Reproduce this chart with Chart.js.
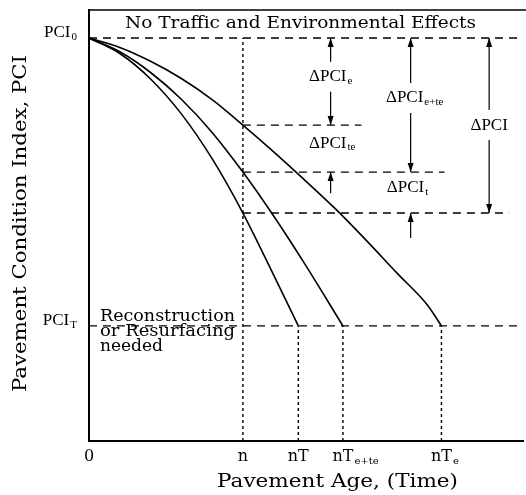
<!DOCTYPE html>
<html><head><meta charset="utf-8">
<script src="https://cdn.jsdelivr.net/npm/chart.js@4"></script>
<style>html,body{margin:0;padding:0;background:#fff}canvas{display:block}</style>
</head><body>
<canvas id="c" width="526" height="495"></canvas>
<script>
'use strict';
// age units: n = 10 ; PCI units 0..100
const xMax = 28.2, yMax = 100;
const pci0 = 93.5, pciT = 26.7;
const levelE = 73.3, levelTE = 62.4, levelT = 52.9;
const ageN = 10, ageT = 13.6, ageTE = 16.5, ageE = 22.9;

const curveE  = [[0,93.5],[2,91.3],[4,88.1],[6,84.1],[8,79.2],[10,73.3],[12,67.1],[14,60.6],[16,53.9],[18,46.6],[20,39.0],[22,31.5],[22.9,26.7]];
const curveTE = [[0,93.5],[2,90.3],[4,85.5],[6,79.3],[8,71.6],[10,62.4],[12,52.2],[14,41.2],[16.5,26.7]];
const curveT  = [[0,93.5],[2,89.9],[4,84.0],[6,75.9],[8,65.5],[10,52.9],[12,38.5],[13.6,26.7]];

const xTickVals = [0, ageN, ageT, ageTE, ageE];
const xTickMain = ['0', 'n', 'nT', 'nT', 'nT'];
const xTickSub  = ['', '', '', 'e+te', 'e'];
const yTickVals = [pci0, pciT];
const yTickSub  = ['0', 'T'];

// dashed levels: [y, x from, x to]
const hLevels = [[pci0, 0, xMax], [pciT, 0, xMax], [levelE, ageN, 17.7], [levelTE, ageN, 23.1], [levelT, ageN, 27.3]];
// dotted verticals: [x, y top]
const vLines = [[ageN, pci0], [ageT, pciT], [ageTE, pciT], [ageE, pciT]];

// dimension arrows: x, from, to, label sub, label y
const spanArrows = [[15.7, pci0, levelE, 'e', 84.5], [20.9, pci0, levelTE, 'e+te', 79.6], [26.0, pci0, levelT, '', 73.3]];
const upArrows = [[15.7, 57.5, levelTE], [20.9, 47.1, levelT]];
const freeLabels = [[15.8, 69.1, 'te'], [20.7, 58.7, 't']];

const pts = a => a.map(p => ({x: p[0], y: p[1]}));
const curveDs = c => ({data: pts(c), borderColor: '#000', borderWidth: 1.6, pointRadius: 0, cubicInterpolationMode: 'monotone', fill: false});
const datasets = [curveDs(curveE), curveDs(curveTE), curveDs(curveT)];
hLevels.forEach(h => datasets.push({data: pts([[h[1], h[0]], [h[2], h[0]]]), borderColor: '#000', borderWidth: 1.3, borderDash: [8, 6], pointRadius: 0}));
vLines.forEach(v => datasets.push({data: pts([[v[0], 0], [v[0], v[1]]]), borderColor: '#000', borderWidth: 1.4, borderDash: [3, 3], pointRadius: 0}));

const SERIF = '"Liberation Serif", "Times New Roman", serif';
const SLAB = '"DejaVu Serif", serif';

function subText(ctx, main, sub, x, y, size, font, align) {
  ctx.font = size + 'px ' + font;
  const wm = ctx.measureText(main).width;
  ctx.font = Math.round(size * 0.62) + 'px ' + font;
  const ws = sub ? ctx.measureText(sub).width + 1 : 0;
  let x0 = x;
  if (align === 'center') x0 = x - (wm + ws) / 2;
  else if (align === 'right') x0 = x - wm - ws;
  else if (align === 'mainCenter') x0 = x - wm / 2;
  ctx.textAlign = 'left'; ctx.textBaseline = 'middle';
  ctx.font = size + 'px ' + font;
  ctx.fillText(main, x0, y);
  if (sub) {
    ctx.font = Math.round(size * 0.62) + 'px ' + font;
    ctx.fillText(sub, x0 + wm + 1, y + size * 0.25);
  }
}
// draw text squeezed to a given width, left edge at x
function fitText(ctx, text, x, y, w, size) {
  ctx.font = size + 'px ' + SLAB;
  const k = w / ctx.measureText(text).width;
  ctx.save();
  ctx.translate(x, y); ctx.scale(k, 1);
  ctx.textAlign = 'left'; ctx.textBaseline = 'middle';
  ctx.fillText(text, 0, 0);
  ctx.restore();
}
function head(ctx, x, y, dir) {
  ctx.beginPath();
  ctx.moveTo(x, y);
  ctx.lineTo(x - 3, y - dir * 9);
  ctx.lineTo(x + 3, y - dir * 9);
  ctx.closePath(); ctx.fill();
}

const decor = {
  id: 'decor',
  afterDatasetsDraw(chart) {
    const ctx = chart.ctx, xs = chart.scales.x, ys = chart.scales.y, a = chart.chartArea;
    ctx.save();
    ctx.fillStyle = '#000'; ctx.strokeStyle = '#000';
    // top frame line
    ctx.lineWidth = 1.5;
    ctx.beginPath(); ctx.moveTo(a.left, a.top); ctx.lineTo(chart.width, a.top); ctx.stroke();
    // arrows with label gap
    ctx.lineWidth = 1.2;
    spanArrows.forEach(s => {
      const x = xs.getPixelForValue(s[0]), y1 = ys.getPixelForValue(s[1]), y2 = ys.getPixelForValue(s[2]), ly = ys.getPixelForValue(s[4]);
      ctx.beginPath(); ctx.moveTo(x, y1); ctx.lineTo(x, ly - 15); ctx.moveTo(x, ly + 15); ctx.lineTo(x, y2); ctx.stroke();
      head(ctx, x, y1, -1); head(ctx, x, y2, 1);
      subText(ctx, '\u0394PCI', s[3], x + (s[3].length > 2 ? 4 : 0), ly, 17, SERIF, 'center');
    });
    upArrows.forEach(u => {
      const x = xs.getPixelForValue(u[0]), y1 = ys.getPixelForValue(u[1]), y2 = ys.getPixelForValue(u[2]);
      ctx.beginPath(); ctx.moveTo(x, y1); ctx.lineTo(x, y2); ctx.stroke();
      head(ctx, x, y2, -1);
    });
    freeLabels.forEach(f => subText(ctx, '\u0394PCI', f[2], xs.getPixelForValue(f[0]), ys.getPixelForValue(f[1]), 17, SERIF, 'center'));
    // y tick labels
    yTickVals.forEach((v, i) => subText(ctx, 'PCI', yTickSub[i], a.left - 12, ys.getPixelForValue(v) - 5, 17, SERIF, 'right'));
    // x tick labels
    xTickVals.forEach((v, i) => subText(ctx, xTickMain[i], xTickSub[i], xs.getPixelForValue(v), a.bottom + 16, 16, SLAB, 'mainCenter'));
    // texts
    fitText(ctx, 'No Traffic and Environmental Effects', 125, 24, 351, 16);
    const yT = ys.getPixelForValue(pciT);
    fitText(ctx, 'Reconstruction', 100, yT - 9, 135, 16);
    fitText(ctx, 'or Resurfacing', 100, yT + 6, 135, 16);
    fitText(ctx, 'needed', 100, yT + 21, 63, 16);
    fitText(ctx, 'Pavement Age, (Time)', 217, 482, 241, 18);
    ctx.translate(21, 392); ctx.rotate(-Math.PI / 2);
    fitText(ctx, 'Pavement Condition Index, PCI', 0, 0, 337, 18);
    ctx.restore();
  }
};

new Chart(document.getElementById('c'), {
  type: 'line',
  data: {datasets},
  plugins: [decor],
  options: {
    responsive: false, animation: false, devicePixelRatio: 1,
    layout: {padding: {top: 10, right: 3, left: 0, bottom: 0}},
    plugins: {legend: {display: false}, tooltip: {enabled: false}},
    scales: {
      x: {type: 'linear', min: 0, max: xMax, grid: {display: false}, ticks: {display: false},
          border: {color: '#000', width: 2}, afterFit(s) { s.height = 54; }},
      y: {min: 0, max: yMax, grid: {display: false}, ticks: {display: false},
          border: {color: '#000', width: 2}, afterFit(s) { s.width = 89; }}
    }
  }
});
</script>
</body></html>
